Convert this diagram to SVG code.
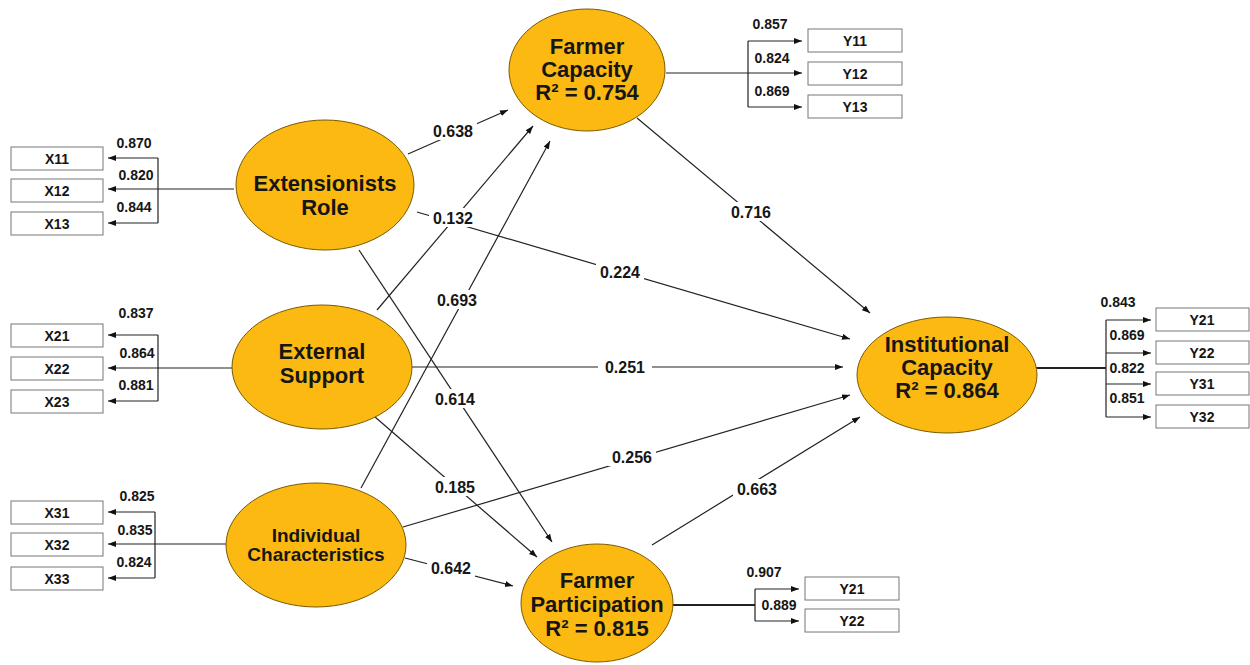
<svg xmlns="http://www.w3.org/2000/svg" width="1250" height="665" viewBox="0 0 1250 665">
<defs>
<marker id="ah" markerUnits="userSpaceOnUse" markerWidth="9" markerHeight="7" refX="8" refY="3" orient="auto">
<path d="M0,0 L8,3 L0,6 z" fill="#111"/>
</marker>
<style>
.lv{fill:#FBB912;stroke:#7a5a00;stroke-width:1}
.nt{font-family:"Liberation Sans",Arial,sans-serif;font-weight:bold;font-size:22px;fill:#161616;text-anchor:middle}
.ns{font-size:19px}
.ln{stroke:#222;stroke-width:1.2;fill:none}
.la{stroke:#222;stroke-width:1.2;fill:none;marker-end:url(#ah)}
.lt{stroke:#222;stroke-width:2;fill:none}
.bx{fill:#fff;stroke:#777;stroke-width:1}
.bt{font-family:"Liberation Sans",Arial,sans-serif;font-weight:bold;font-size:14px;fill:#161616;text-anchor:middle}
.pl{font-family:"Liberation Sans",Arial,sans-serif;font-weight:bold;font-size:16px;fill:#161616;text-anchor:middle}
.ld{font-family:"Liberation Sans",Arial,sans-serif;font-weight:bold;font-size:14px;fill:#161616;text-anchor:middle}
.bg{fill:#fff}
</style>
</defs>
<rect width="1250" height="665" fill="#fff"/>

<g id="connectors">
<line class="la" x1="408" y1="154" x2="508" y2="110"/>
<line class="la" x1="417" y1="212" x2="850" y2="339"/>
<line class="la" x1="377" y1="310" x2="533" y2="126"/>
<line class="la" x1="361" y1="488" x2="550" y2="141"/>
<line class="la" x1="359" y1="250" x2="552" y2="542"/>
<line class="la" x1="375" y1="417" x2="537" y2="557"/>
<line class="la" x1="412" y1="367" x2="843" y2="367"/>
<line class="la" x1="403" y1="527" x2="850" y2="395"/>
<line class="la" x1="405" y1="558" x2="513" y2="586"/>
<line class="la" x1="637" y1="118" x2="870" y2="313"/>
<line class="la" x1="652" y1="545" x2="860" y2="417"/>

<g id="path-labels">
<rect class="bg" x="429" y="121" width="48" height="19"/><text class="pl" x="453" y="137">0.638</text>
<rect class="bg" x="429" y="208" width="48" height="19"/><text class="pl" x="453" y="224">0.132</text>
<rect class="bg" x="596" y="262" width="48" height="19"/><text class="pl" x="620" y="278">0.224</text>
<rect class="bg" x="433" y="290" width="48" height="19"/><text class="pl" x="457" y="306">0.693</text>
<rect class="bg" x="598" y="357" width="54" height="19"/><text class="pl" x="625" y="373">0.251</text>
<rect class="bg" x="431" y="389" width="48" height="19"/><text class="pl" x="455" y="405">0.614</text>
<rect class="bg" x="608" y="447" width="48" height="19"/><text class="pl" x="632" y="463">0.256</text>
<rect class="bg" x="431" y="477" width="48" height="19"/><text class="pl" x="455" y="493">0.185</text>
<rect class="bg" x="427" y="558" width="48" height="19"/><text class="pl" x="451" y="574">0.642</text>
<rect class="bg" x="727" y="202" width="48" height="19"/><text class="pl" x="751" y="218">0.716</text>
<rect class="bg" x="733" y="479" width="48" height="19"/><text class="pl" x="757" y="495">0.663</text>
</g>

<g id="loadings-extensionists">
<line class="la" x1="234" y1="189" x2="108" y2="189"/>
<polyline class="ln" points="158,158 158,223"/>
<line class="la" x1="158" y1="158" x2="108" y2="158"/>
<line class="la" x1="158" y1="223" x2="108" y2="223"/>
<text class="ld" x="134" y="148">0.870</text>
<text class="ld" x="136" y="180">0.820</text>
<text class="ld" x="134" y="212">0.844</text>
</g>
<g id="loadings-external">
<line class="la" x1="232" y1="368" x2="108" y2="368"/>
<polyline class="ln" points="158,335 158,401"/>
<line class="la" x1="158" y1="335" x2="108" y2="335"/>
<line class="la" x1="158" y1="401" x2="108" y2="401"/>
<text class="ld" x="136" y="318">0.837</text>
<text class="ld" x="137" y="358">0.864</text>
<text class="ld" x="136" y="390">0.881</text>
</g>
<g id="loadings-individual">
<line class="la" x1="226" y1="544" x2="108" y2="544"/>
<polyline class="ln" points="155,512 155,578"/>
<line class="la" x1="155" y1="512" x2="108" y2="512"/>
<line class="la" x1="155" y1="578" x2="108" y2="578"/>
<text class="ld" x="137" y="501">0.825</text>
<text class="ld" x="135" y="535">0.835</text>
<text class="ld" x="134" y="567">0.824</text>
</g>
<g id="loadings-farmercap">
<line class="la" x1="666" y1="73" x2="802" y2="73"/>
<polyline class="ln" points="748,41 748,107"/>
<line class="la" x1="748" y1="41" x2="802" y2="41"/>
<line class="la" x1="748" y1="107" x2="802" y2="107"/>
<text class="ld" x="770" y="29">0.857</text>
<text class="ld" x="772" y="63">0.824</text>
<text class="ld" x="772" y="96">0.869</text>
</g>
<g id="loadings-institutional">
<line class="lt" x1="1036" y1="368" x2="1106" y2="368"/>
<polyline class="ln" points="1106,320 1106,417"/>
<line class="la" x1="1106" y1="320" x2="1151" y2="320"/>
<line class="la" x1="1106" y1="353" x2="1151" y2="353"/>
<line class="la" x1="1106" y1="384" x2="1151" y2="384"/>
<line class="la" x1="1106" y1="417" x2="1151" y2="417"/>
<text class="ld" x="1118" y="307">0.843</text>
<text class="ld" x="1127" y="340">0.869</text>
<text class="ld" x="1127" y="373">0.822</text>
<text class="ld" x="1127" y="403">0.851</text>
</g>
<g id="loadings-participation">
<line class="lt" x1="673" y1="605" x2="755" y2="605"/>
<polyline class="ln" points="755,589 755,621"/>
<line class="la" x1="755" y1="589" x2="799" y2="589"/>
<line class="la" x1="755" y1="621" x2="799" y2="621"/>
<text class="ld" x="764" y="577">0.907</text>
<text class="ld" x="779" y="610">0.889</text>
</g>
</g>

<g id="extensionists-role">
<ellipse class="lv" cx="325" cy="185" rx="89" ry="65"/>
<text class="nt" x="325" y="191">Extensionists</text>
<text class="nt" x="325" y="215">Role</text>
</g>
<g id="external-support">
<ellipse class="lv" cx="322" cy="367" rx="90" ry="62"/>
<text class="nt" x="322" y="359">External</text>
<text class="nt" x="322" y="383">Support</text>
</g>
<g id="individual-characteristics">
<ellipse class="lv" cx="316" cy="545" rx="90" ry="62"/>
<text class="nt ns" x="316" y="542">Individual</text>
<text class="nt ns" x="316" y="561">Characteristics</text>
</g>
<g id="farmer-capacity">
<ellipse class="lv" cx="587" cy="70" rx="78" ry="61"/>
<text class="nt" x="587" y="54">Farmer</text>
<text class="nt" x="587" y="77">Capacity</text>
<text class="nt" x="587" y="100">R² = 0.754</text>
</g>
<g id="institutional-capacity">
<ellipse class="lv" cx="947" cy="375" rx="90" ry="58"/>
<text class="nt" x="947" y="352">Institutional</text>
<text class="nt" x="947" y="375">Capacity</text>
<text class="nt" x="947" y="398">R² = 0.864</text>
</g>
<g id="farmer-participation">
<ellipse class="lv" cx="597" cy="603" rx="76" ry="59"/>
<text class="nt" x="597" y="588">Farmer</text>
<text class="nt" x="597" y="612">Participation</text>
<text class="nt" x="597" y="636">R² = 0.815</text>
</g>

<g id="ind-X11"><rect class="bx" x="11" y="147" width="92" height="23"/><text class="bt" x="57" y="163.5">X11</text></g>
<g id="ind-X12"><rect class="bx" x="11" y="179" width="92" height="23"/><text class="bt" x="57" y="195.5">X12</text></g>
<g id="ind-X13"><rect class="bx" x="11" y="212" width="92" height="23"/><text class="bt" x="57" y="228.5">X13</text></g>
<g id="ind-X21"><rect class="bx" x="11" y="324" width="92" height="23"/><text class="bt" x="57" y="340.5">X21</text></g>
<g id="ind-X22"><rect class="bx" x="11" y="357" width="92" height="23"/><text class="bt" x="57" y="373.5">X22</text></g>
<g id="ind-X23"><rect class="bx" x="11" y="390" width="92" height="23"/><text class="bt" x="57" y="406.5">X23</text></g>
<g id="ind-X31"><rect class="bx" x="11" y="501" width="92" height="23"/><text class="bt" x="57" y="517.5">X31</text></g>
<g id="ind-X32"><rect class="bx" x="11" y="533" width="92" height="23"/><text class="bt" x="57" y="549.5">X32</text></g>
<g id="ind-X33"><rect class="bx" x="11" y="567" width="92" height="23"/><text class="bt" x="57" y="583.5">X33</text></g>
<g id="ind-Y11"><rect class="bx" x="808" y="29" width="94" height="23"/><text class="bt" x="855" y="45.5">Y11</text></g>
<g id="ind-Y12"><rect class="bx" x="808" y="62" width="94" height="23"/><text class="bt" x="855" y="78.5">Y12</text></g>
<g id="ind-Y13"><rect class="bx" x="808" y="95" width="94" height="23"/><text class="bt" x="855" y="111.5">Y13</text></g>
<g id="ind-Y21a"><rect class="bx" x="1156" y="308" width="93" height="23"/><text class="bt" x="1202" y="324.5">Y21</text></g>
<g id="ind-Y22a"><rect class="bx" x="1156" y="341" width="93" height="23"/><text class="bt" x="1202" y="357.5">Y22</text></g>
<g id="ind-Y31"><rect class="bx" x="1156" y="372" width="93" height="23"/><text class="bt" x="1202" y="388.5">Y31</text></g>
<g id="ind-Y32"><rect class="bx" x="1156" y="405" width="93" height="23"/><text class="bt" x="1202" y="421.5">Y32</text></g>
<g id="ind-Y21b"><rect class="bx" x="805" y="577" width="94" height="23"/><text class="bt" x="852" y="593.5">Y21</text></g>
<g id="ind-Y22b"><rect class="bx" x="805" y="609" width="94" height="23"/><text class="bt" x="852" y="625.5">Y22</text></g>
</svg>
